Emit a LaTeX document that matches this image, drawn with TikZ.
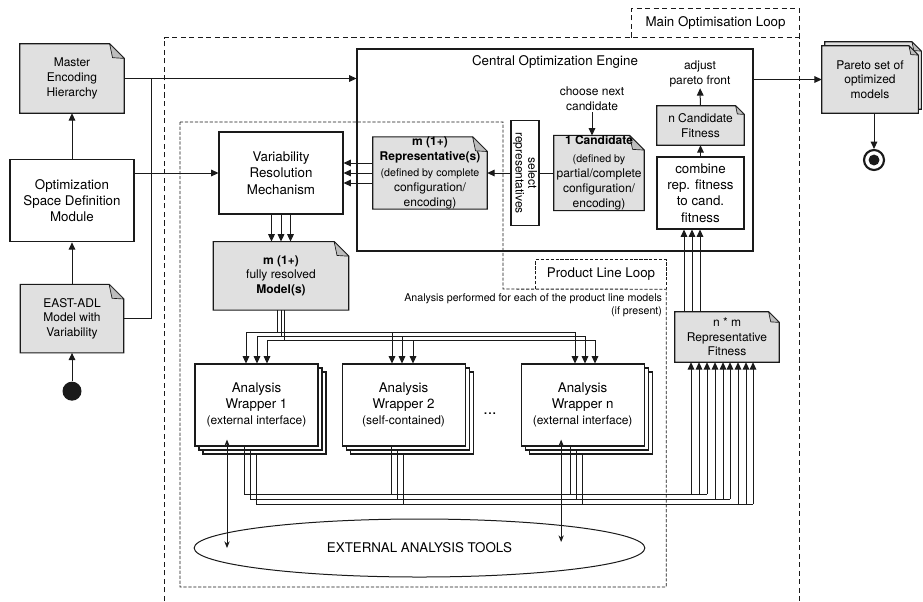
\documentclass[tikz,border=0pt]{standalone}
\usepackage{fontspec}
\setmainfont{TeX Gyre Heros}
\usetikzlibrary{arrows.meta,positioning,calc,backgrounds,shadows,shapes.geometric}
\newcommand{\fsz}[2]{\fontsize{#1}{#2}\selectfont}
\definecolor{docc}{HTML}{E0E0E0}
\definecolor{foldc}{HTML}{BDBDBD}
\definecolor{linec}{HTML}{1A1A1A}
\tikzset{
  ln/.style={draw=linec, line width=0.75pt},
  arr/.style={ln, -{Triangle[length=5.5pt,width=5pt]}},
  darr/.style={ln, {Stealth[length=5pt,width=4pt]}-{Stealth[length=5pt,width=4pt]}},
  blk/.style={draw=linec, line width=0.8pt, inner sep=0pt, align=center, font=\fsz{10}{12.2}},
  doc/.style={inner sep=0pt, align=center, font=\fsz{9}{11.2}},
  txt/.style={inner sep=1pt, align=center, font=\fsz{9}{11.2}},
  wrap/.style={blk, fill=white, minimum width=92.25pt, minimum height=61.5pt,
    copy shadow={shadow xshift=6pt, shadow yshift=-6pt, draw=linec, fill=white, line width=0.8pt},
    copy shadow={shadow xshift=3pt, shadow yshift=-3pt, draw=linec, fill=white, line width=0.8pt}},
  mainloop/.style={draw=linec, line width=0.75pt, dash pattern=on 3.8pt off 2.6pt},
  plloop/.style={draw=linec, line width=0.7pt, dash pattern=on 2.4pt off 1.3pt},
}
\newcommand{\docfold}[3]{%
  \filldraw[draw=linec, line width=0.8pt, fill=docc]
    ([shift={#3}]#2.south west) -- ([shift={#3}]#2.north west)
    -- ([shift={#3}, xshift=-#1]#2.north east)
    -- ([shift={#3}, yshift=-#1]#2.north east)
    -- ([shift={#3}]#2.south east) -- cycle;
  \filldraw[draw=linec, line width=0.5pt, fill=foldc, line join=round]
    ([shift={#3}, xshift=-#1]#2.north east)
    -- ([shift={#3}, xshift=-0.8*#1, yshift=-0.95*#1]#2.north east)
    -- ([shift={#3}, yshift=-#1]#2.north east) -- cycle;
}
\begin{document}
\begin{tikzpicture}[x=0.75pt, y=-0.75pt]
  \useasboundingbox (0,0) rectangle (923,601);
  \node[doc, minimum width=78pt, minimum height=51.75pt] (meh) at (72,78.5) {Master\\Encoding\\Hierarchy};
  \node[blk, below=34.5pt of meh, minimum width=93pt, minimum height=61.5pt] (osdm) {Optimization\\Space Definition\\Module};
  \node[doc, font=\fsz{9}{10.9}, below=31.5pt of osdm, minimum width=77.25pt, minimum height=51pt] (adl) {EAST-ADL\\Model with\\Variability};
  \node[circle, fill=linec, minimum size=14.25pt, inner sep=0pt, below=21.4pt of adl] (start) {};

  \node[mainloop, draw=none, minimum width=125.25pt, minimum height=21pt, inner sep=0pt, font=\fsz{10}{12}] (mol) at (715.5,23) {Main Optimisation Loop};
  \draw[mainloop] (mol.south west) |- (mol.north east) -- (mol.south east);
  \draw[mainloop] (164,601) |- (mol.south east) -- (mol.south east |- 0,601);

  \node[blk, minimum width=297pt, minimum height=151.5pt] (engine) at (555,150) {};
  \node[font=\fsz{10}{12}] (engt) at ($(engine.north)+(0,13)$) {Central Optimization Engine};
  \node[blk, minimum width=93pt, minimum height=61.5pt] (vrm) at (281,173) {Variability\\Resolution\\Mechanism};
  \node[doc, below=20.25pt of vrm, minimum width=101.25pt, minimum height=51pt] (models) {\textbf{m (1+)}\\fully resolved\\\textbf{Model(s)}};
  \node[doc, minimum width=85.5pt, minimum height=51pt] (rep) at (430,173) {\fsz{9}{12}\textbf{m (1+)}\\\textbf{Representative(s)}\\[0.5pt]\fsz{8}{9.5}(defined by complete\\configuration/\\encoding)};
  \node[blk, font=\fsz{9}{9.5}, rotate=-90, minimum width=78.75pt, minimum height=21pt] (sel) at (525,173) {select\\representatives};
  \node[doc, minimum width=67.5pt, minimum height=51pt] (cand) at (599,173) {\fsz{9}{12}\textbf{1 Candidate}\\[2.5pt]\fsz{8}{9.5}(defined by\\partial/complete\\configuration/\\encoding)};
  \node[txt] (choose) at (592,98.5) {choose next\\candidate};
  \node[doc, minimum width=65.25pt, minimum height=29.25pt] (ncf) at (700.5,125.5) {n Candidate\\Fitness};
  \node[txt] (adjust) at (700,73.5) {adjust\\pareto front};
  \node[blk, minimum width=65.25pt, minimum height=54pt] (comb) at (700.5,193) {combine\\rep. fitness\\to cand.\\fitness};
  \node[doc, font=\fsz{9}{10.9}, minimum width=78pt, minimum height=37.5pt] (nm) at (727,337) {n * m\\Representative\\Fitness};
  \node[doc, font=\fsz{9}{10.9}, minimum width=72pt, minimum height=50.25pt] (pareto) at (870,79.5) {Pareto set of\\optimized\\models};
  \node[circle, draw=linec, line width=1.6pt, minimum size=15pt, inner sep=0pt,
    path picture={\fill[linec] (path picture bounding box.center) circle (4.1pt);}] (end) at (874,160) {};

  \node[font=\fsz{10}{12}, minimum width=97.5pt, minimum height=21.75pt, inner sep=0pt] (pll) at (601,274.5) {Product Line Loop};
  \draw[plloop] (pll.south west) |- (pll.north east) -- (pll.south east);
  \draw[plloop] (180,122) -| (503,289) -- (pll.south east) |- (180,587) -- cycle;
  \node[font=\fsz{8}{9.5}, align=right, anchor=north east, inner sep=0pt] (apt) at ($(pll.south east)+(-4,4.5)$) {Analysis performed for each of the product line models\\(if present)};

  \node[wrap] (w1) at (256.5,405) {\fsz{10}{13.3}Analysis\\Wrapper 1\\\fsz{9}{10.5}(external interface)};
  \node[wrap, right=17.25pt of w1] (w2) {\fsz{10}{13.3}Analysis\\Wrapper 2\\\fsz{9}{10.5}(self-contained)};
  \node[wrap, right=41.25pt of w2] (wn) {\fsz{10}{13.3}Analysis\\Wrapper n\\\fsz{9}{10.5}(external interface)};
  \node[font=\fsz{12}{14}, inner sep=0pt] (dots) at (490,414) {...};
  \node[draw=linec, line width=0.75pt, ellipse, minimum width=338pt, minimum height=43.5pt, inner sep=0pt, font=\fsz{10}{12}] (tools) at (419.5,548) {EXTERNAL ANALYSIS TOOLS};

  \begin{scope}[on background layer]
    \foreach \n/\f in {meh/11pt,adl/11pt,models/11pt,rep/11pt,cand/11pt,ncf/6.5pt,nm/8pt}{\docfold{\f}{\n}{(0pt,0pt)}}
    \docfold{7pt}{pareto}{(2.25pt,3pt)}
    \docfold{7pt}{pareto}{(0pt,0pt)}
  \end{scope}

  \coordinate (jn) at ($(meh.east)+(27,0)$);
  \draw[arr] (meh.east) -- (meh.east -| engine.west);
  \draw[ln] (adl.east) -| (jn);
  \draw[arr] (osdm) -- (meh);
  \draw[arr] (adl) -- (osdm);
  \draw[arr] (start) -- (adl);
  \draw[arr] (vrm.west -| osdm.east) -- (vrm.west);
  \foreach \dy in {-10,0,10} \draw[arr] ($(rep.west)+(0,\dy)$) -- ($(vrm.east)+(0,\dy)$);
  \foreach \dx in {-9.5,0,9.5} \draw[arr] ($(vrm.south)+(\dx,0)$) coordinate (q) -- (q |- models.north);
  \draw[ln] (cand) -- (sel);
  \draw[arr] (sel) -- (rep);
  \draw[arr] (choose) -- (choose |- cand.north);
  \draw[arr] (comb) -- (ncf);
  \draw[arr] (ncf) -- (adjust);
  \foreach \x in {684,692,700} \draw[arr] (nm.north -| \x,0) -- (comb.south -| \x,0);
  \draw[arr] (pareto.west -| engine.east) -- (pareto.west);
  \draw[arr] (pareto.south -| end) -- (end);

  \foreach \xm/\yb/\xa/\xb/\xc in {-3.5/332/246/392/575, 0/336/257/402/585, 3.5/340/267/413/595}{
    \draw[ln] ($(models.south)+(\xm,0)$) coordinate (q) -- (q |- 0,\yb);
    \draw[ln] (\xa,\yb) -- (\xc,\yb);
    \foreach \p/\w in {\xa/w1,\xb/w2,\xc/wn} \draw[arr] (\p,\yb) -- (\w.north -| \p,0);
  }
  \foreach \dx/\s/\yb/\pa/\pb/\pc in {-12.5/0/494/691/699/707, -6.5/4/499/715/723/730, -0.5/8/504/738/746/753}{
    \draw[ln] ($(w1.south)+(\dx,\s)$) |- (\pc,\yb);
    \foreach \w in {w2,wn} \draw[ln] ($(\w.south)+(\dx,\s)$) coordinate (q) -- (q |- 0,\yb);
    \foreach \p in {\pa,\pb,\pc} \draw[arr] (\p,\yb) -- (nm.south -| \p,0);
  }
  \draw[darr] ($(w1.south)+(-29.5,-7)$) coordinate (q) -- (q |- tools.center);
  \draw[darr] ($(wn.south)+(-21.5,-7)$) coordinate (q) -- ($(q |- tools.center)+(0,-6)$);
\end{tikzpicture}
\end{document}
